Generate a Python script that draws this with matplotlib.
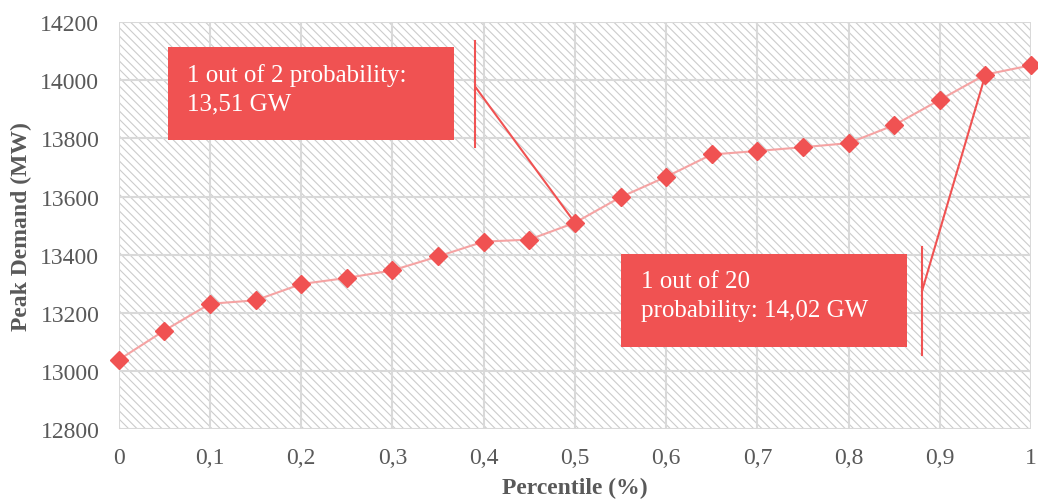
import matplotlib.pyplot as plt
from matplotlib.patches import Rectangle

plt.rcParams['font.family'] = ['Liberation Serif', 'DejaVu Serif']
plt.rcParams['hatch.linewidth'] = 0.8

# Peak demand by percentile.
percentiles = [0, 0.05, 0.1, 0.15, 0.2, 0.25, 0.3, 0.35, 0.4, 0.45, 0.5,
               0.55, 0.6, 0.65, 0.7, 0.75, 0.8, 0.85, 0.9, 0.95, 1.0]
peak_mw = [13038, 13139, 13231, 13243, 13299, 13320, 13346, 13394, 13445,
           13452, 13510, 13598, 13668, 13745, 13757, 13770, 13784, 13846,
           13933, 14020, 14052]

x_ticks = [0, 0.1, 0.2, 0.3, 0.4, 0.5, 0.6, 0.7, 0.8, 0.9, 1.0]
x_tick_labels = ['0', '0,1', '0,2', '0,3', '0,4', '0,5', '0,6', '0,7',
                 '0,8', '0,9', '1']
y_ticks = [12800, 13000, 13200, 13400, 13600, 13800, 14000, 14200]

callouts = [
    ('1 out of 2 probability:\n13,51 GW', 0.5, 13510),
    ('1 out of 20\nprobability: 14,02 GW', 0.95, 14020),
]

red = '#F05252'
grey_text = '#595959'

fig = plt.figure(figsize=(10.38, 5.02), dpi=100)
ax = fig.add_axes([0.1144, 0.1434, 0.8789, 0.8102])

# Hatched plot area background.
ax.add_patch(Rectangle((0, 0), 1, 1, transform=ax.transAxes,
                       facecolor='white', edgecolor='#CCCCCC',
                       hatch='\\\\\\\\', lw=0, zorder=0))

ax.plot(percentiles, peak_mw, color='#F5A3A3', lw=1.5, zorder=3)
ax.plot(percentiles, peak_mw, ls='none', marker='D', ms=9.5,
        color=red, markeredgecolor=red, zorder=4, clip_on=False)

ax.set_xlim(0, 1)
ax.set_ylim(12800, 14200)
ax.set_xticks(x_ticks)
ax.set_xticklabels(x_tick_labels)
ax.set_yticks(y_ticks)
ax.grid(True, color='#D9D9D9', lw=1.5, zorder=1)
ax.set_axisbelow(True)
for side in ax.spines.values():
    side.set_visible(False)
ax.tick_params(length=0, labelsize=17, labelcolor=grey_text)
ax.tick_params(axis='x', pad=13)
ax.tick_params(axis='y', pad=14)

ax.set_xlabel('Percentile (%)', fontsize=17, fontweight='bold',
              color=grey_text, labelpad=6)
ax.set_ylabel('Peak Demand (MW)', fontsize=17, fontweight='bold',
              color=grey_text, labelpad=6)

# Callout boxes with leader lines.
box_pos = [(0.054, 13795, 0.314, 320, 0.391, 13771, 14136, 13977),
           (0.551, 13083, 0.313, 320, 0.8805, 13055, 13427, 13275)]
for (label, px, py), (bx, by, bw, bh, lx, ly0, ly1, ly) in zip(callouts, box_pos):
    ax.add_patch(Rectangle((bx, by), bw, bh, facecolor=red, edgecolor='none',
                           zorder=5))
    ax.text(bx + 0.021, by + bh / 2 + 16, label, color='white', fontsize=18,
            va='center', ha='left', linespacing=1.4, zorder=6)
    ax.plot([lx, lx], [ly0, ly1], color=red, lw=1.5, zorder=5)
    ax.plot([lx, px], [ly, py], color=red, lw=1.5, zorder=5)

fig.savefig('out.png', dpi=100)
